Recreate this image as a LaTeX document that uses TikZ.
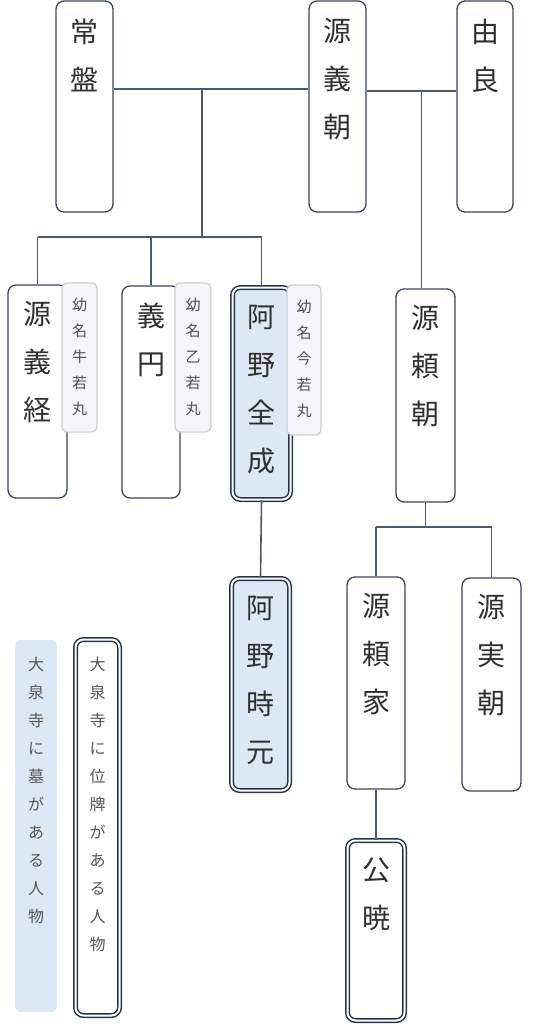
\documentclass[tikz,border=0pt]{standalone}
\usepackage{fontspec}
\setmainfont{Noto Sans CJK JP}
\definecolor{keicol}{HTML}{4D596C}
\definecolor{boxcol}{HTML}{3B4760}
\definecolor{dblcol}{HTML}{27344F}
\definecolor{bluefill}{HTML}{DDE8F6}
\definecolor{tagfill}{HTML}{F4F5F7}
\definecolor{tagdraw}{HTML}{C9CED6}
\definecolor{txtcol}{HTML}{303030}
\definecolor{legcol}{HTML}{555555}
\begin{document}
\begin{tikzpicture}
  [x=1pt,y=-1pt,
   person/.style={draw=boxcol,line width=1.3pt,rounded corners=8pt,fill=white,inner sep=0pt},
   ihai/.style={draw=dblcol,line width=1.5pt,double=white,double distance=2pt,rounded corners=8pt,fill=bluefill,inner sep=0pt},
   haka/.style={fill=bluefill,rounded corners=6pt,inner sep=0pt},
   youmyou/.style={draw=tagdraw,line width=1.2pt,rounded corners=5pt,fill=tagfill,inner sep=0pt},
   nametext/.style={anchor=north,align=center,inner sep=0pt,text=txtcol,font=\fontsize{28}{48}\selectfont},
   youtext/.style={anchor=north,align=center,inner sep=0pt,text=txtcol!85,font=\fontsize{15}{26}\selectfont},
   legtext/.style={anchor=north,align=center,inner sep=0pt,text=legcol,font=\fontsize{16}{28}\selectfont},
   kei/.style={draw=keicol,line width=1.6pt}]
  \useasboundingbox (0,0) rectangle (533,1024);

  % parents
  \node[person,minimum width=57,minimum height=211] (tokiwa) at (84.5,106.5) {};
  \node[person,minimum width=57,minimum height=211] (yoshitomo) at (337.5,106.5) {};
  \node[person,minimum width=56,minimum height=211] (yura) at (485,106.5) {};
  \node[nametext] (tokiwa-t) at ([yshift=-18]tokiwa.north) {常\\盤};
  \node[nametext] (yoshitomo-t) at ([yshift=-18]yoshitomo.north) {源\\義\\朝};
  \node[nametext] (yura-t) at ([yshift=-18]yura.north) {由\\良};

  % children
  \node[person,minimum width=59,minimum height=213] (yoshitsune) at (37.5,391.5) {};
  \node[person,minimum width=58,minimum height=212] (gien) at (151,392) {};
  \node[ihai,minimum width=58,minimum height=212] (zensei) at (261.5,393.5) {};
  \node[person,minimum width=59,minimum height=213] (yoritomo) at (425.5,395.5) {};
  \node[nametext] (yoshitsune-t) at ([yshift=-17]yoshitsune.north) {源\\義\\経};
  \node[nametext] (gien-t) at ([yshift=-17]gien.north) {義\\円};
  \node[nametext] (zensei-t) at ([yshift=-18]zensei.north) {阿\\野\\全\\成};
  \node[nametext] (yoritomo-t) at ([yshift=-17]yoritomo.north) {源\\頼\\朝};

  % childhood names
  \node[youmyou,minimum width=35,minimum height=149] (ushi) at (79.5,357.5) {};
  \node[youmyou,minimum width=36,minimum height=149] (oto) at (193,357.5) {};
  \node[youmyou,minimum width=34,minimum height=150] (ima) at (304,360) {};
  \node[youtext] (ushi-t) at ([yshift=-15]ushi.north) {幼\\名\\牛\\若\\丸};
  \node[youtext] (oto-t) at ([yshift=-15]oto.north) {幼\\名\\乙\\若\\丸};
  \node[youtext] (ima-t) at ([yshift=-15]ima.north) {幼\\名\\今\\若\\丸};

  % grandchildren
  \node[ihai,minimum width=58,minimum height=212] (tokimoto) at (260.5,684.5) {};
  \node[person,minimum width=58,minimum height=212] (yoriie) at (376,683) {};
  \node[person,minimum width=59,minimum height=213] (sanetomo) at (491.5,684.5) {};
  \node[ihai,fill=white,minimum width=57,minimum height=180] (kugyo) at (376,930.5) {};
  \node[nametext] (tokimoto-t) at ([yshift=-18]tokimoto.north) {阿\\野\\時\\元};
  \node[nametext] (yoriie-t) at ([yshift=-17]yoriie.north) {源\\頼\\家};
  \node[nametext] (sanetomo-t) at ([yshift=-17]sanetomo.north) {源\\実\\朝};
  \node[nametext] (kugyo-t) at ([yshift=-18]kugyo.north) {公\\暁};

  % legend
  \node[haka,minimum width=42,minimum height=372] (hakaleg) at (36,826) {};
  \node[ihai,fill=white,minimum width=44,minimum height=376] (ihaileg) at (97.5,827.5) {};
  \node[legtext] (hakaleg-t) at ([yshift=-17]hakaleg.north) {大\\泉\\寺\\に\\墓\\が\\あ\\る\\人\\物};
  \node[legtext] (ihaileg-t) at ([yshift=-18]ihaileg.north) {大\\泉\\寺\\に\\位\\牌\\が\\あ\\る\\人\\物};

  % lines
  \coordinate (m1) at (202,89);
  \coordinate (m2) at (202,237);
  \coordinate (m3) at (0,91);
  \coordinate (m4) at (0,527);
  \draw[kei] (tokiwa.east |- m1) -- (yoshitomo.west |- m1);
  \draw[kei] (m1) -- (m2);
  \draw[kei] (yoshitsune.north |- m2) -- (zensei.north |- m2);
  \foreach \c in {yoshitsune,gien,zensei}
    \draw[kei] (\c.north |- m2) -- (\c.north);
  \draw[kei] (yoshitomo.east |- m3) -- (yura.west |- m3);
  \draw[kei] ([xshift=-4]yoritomo.north |- m3) -- ([xshift=-4]yoritomo.north);
  \draw[kei] (yoritomo.south) -- (yoritomo.south |- m4);
  \draw[kei] (yoriie.north |- m4) -- (sanetomo.north |- m4);
  \foreach \c in {yoriie,sanetomo}
    \draw[kei] (\c.north |- m4) -- (\c.north);
  \foreach \from/\to in {zensei/tokimoto,yoriie/kugyo}
    \draw[kei] (\from.south) -- (\to.north);
\end{tikzpicture}
\end{document}
